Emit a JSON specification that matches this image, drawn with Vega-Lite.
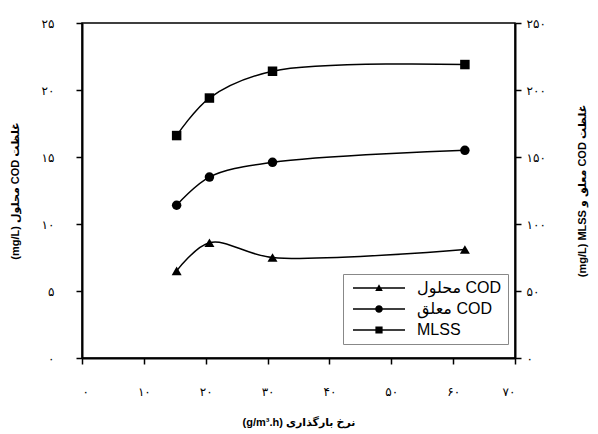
{
  "$schema": "https://vega.github.io/schema/vega-lite/v6.json",
  "width": 433,
  "height": 335,
  "autosize": {"type": "none"},
  "padding": {"left": 82, "top": 23, "right": 83, "bottom": 76},
  "config": {
    "locale": {"number": {"decimal": ".", "thousands": ",", "grouping": [3], "currency": ["", ""], "numerals": ["۰", "۱", "۲", "۳", "۴", "۵", "۶", "۷", "۸", "۹"]}},
    "font": "Liberation Sans, DejaVu Sans, sans-serif",
    "view": {"stroke": "black", "strokeWidth": 1.5},
    "axis": {
      "grid": false,
      "domainColor": "black",
      "domainWidth": 2,
      "tickColor": "black",
      "tickWidth": 1.5,
      "tickSize": 6,
      "labelColor": "black",
      "labelFontSize": 12,
      "labelFont": "Liberation Sans, DejaVu Sans, sans-serif",
      "titleFont": "Liberation Sans, DejaVu Sans, sans-serif",
      "titleFontSize": 11,
      "titleFontWeight": "bold",
      "titleColor": "black"
    }
  },
  "data": {
    "values": [
      {"series": "محلول COD", "rate": 15.3, "value": 6.5},
      {"series": "محلول COD", "rate": 20.6, "value": 8.6},
      {"series": "محلول COD", "rate": 30.8, "value": 7.5},
      {"series": "محلول COD", "rate": 61.9, "value": 8.1},
      {"series": "معلق COD", "rate": 15.3, "value": 114},
      {"series": "معلق COD", "rate": 20.6, "value": 135},
      {"series": "معلق COD", "rate": 30.8, "value": 146},
      {"series": "معلق COD", "rate": 61.9, "value": 155},
      {"series": "MLSS", "rate": 15.3, "value": 166},
      {"series": "MLSS", "rate": 20.6, "value": 194},
      {"series": "MLSS", "rate": 30.8, "value": 214},
      {"series": "MLSS", "rate": 61.9, "value": 219}
    ]
  },
  "encoding": {
    "x": {
      "field": "rate",
      "type": "quantitative",
      "scale": {"domain": [0, 70], "nice": false},
      "axis": {
        "values": [0, 10, 20, 30, 40, 50, 60, 70],
        "title": "(g/m³.h) نرخ بارگذاری",
        "labelPadding": 22,
        "titlePadding": 19
      }
    }
  },
  "layer": [
    {
      "transform": [{"filter": "datum.series === 'محلول COD'"}],
      "encoding": {
        "y": {
          "field": "value",
          "type": "quantitative",
          "scale": {"domain": [0, 25], "nice": false},
          "axis": {
            "orient": "left",
            "values": [0, 5, 10, 15, 20, 25],
            "title": "(mg/L) محلول COD غلظت",
            "labelPadding": 22,
            "titlePadding": 21
          }
        }
      },
      "layer": [
        {
          "mark": {"type": "line", "interpolate": "catmull-rom", "color": "black", "strokeWidth": 1.5},
          "encoding": {}
        },
        {
          "mark": {"type": "point", "filled": true, "color": "black", "size": 100, "opacity": 1, "shape": "triangle-up"},
          "encoding": {}
        },
        {
          "mark": {"type": "point", "filled": true, "color": "black", "size": 90, "opacity": 0},
          "encoding": {
            "shape": {
              "field": "series",
              "type": "nominal",
              "scale": {
                "domain": ["محلول COD", "معلق COD", "MLSS"],
                "range": [
                  "M-6.5,-0.19L6.5,-0.19L6.5,0.19L-6.5,0.19ZM0,-0.95L0.95,0.75L-0.95,0.75Z",
                  "M-6.5,-0.19L6.5,-0.19L6.5,0.19L-6.5,0.19ZM0.95,0A0.95,0.95 0 1,1 -0.95,0A0.95,0.95 0 1,1 0.95,0Z",
                  "M-6.5,-0.19L6.5,-0.19L6.5,0.19L-6.5,0.19ZM-0.9,-0.9L0.9,-0.9L0.9,0.9L-0.9,0.9Z"
                ]
              },
              "legend": {
                "title": null,
                "orient": "none",
                "legendX": 261,
                "legendY": 251,
                "strokeColor": "#888888",
                "fillColor": "white",
                "padding": 6,
                "labelFontSize": 16,
                "labelColor": "black",
                "symbolSize": 64,
                "symbolOpacity": 1,
                "symbolFillColor": "black",
                "symbolStrokeColor": "black",
                "symbolStrokeWidth": 0,
                "symbolOffset": 22,
                "labelOffset": 30,
                "rowPadding": 5
              }
            }
          }
        }
      ]
    },
    {
      "encoding": {
        "y": {
          "field": "value",
          "type": "quantitative",
          "scale": {"domain": [0, 250], "nice": false},
          "axis": {
            "orient": "right",
            "values": [0, 50, 100, 150, 200, 250],
            "title": "(mg/L) MLSS معلق و COD غلظت",
            "titleAngle": -90,
            "labelPadding": 5,
            "titlePadding": 42
          }
        }
      },
      "layer": [
        {
          "transform": [{"filter": "datum.series === 'معلق COD'"}],
          "layer": [
            {
              "mark": {"type": "line", "interpolate": "catmull-rom", "color": "black", "strokeWidth": 1.5},
              "encoding": {}
            },
            {
              "mark": {"type": "point", "filled": true, "color": "black", "size": 90, "opacity": 1, "shape": "circle"},
              "encoding": {}
            }
          ]
        },
        {
          "transform": [{"filter": "datum.series === 'MLSS'"}],
          "layer": [
            {
              "mark": {"type": "line", "interpolate": "catmull-rom", "color": "black", "strokeWidth": 1.5},
              "encoding": {}
            },
            {
              "mark": {"type": "point", "filled": true, "color": "black", "size": 90, "opacity": 1, "shape": "square"},
              "encoding": {}
            }
          ]
        }
      ]
    }
  ],
  "resolve": {"scale": {"y": "independent"}}
}
